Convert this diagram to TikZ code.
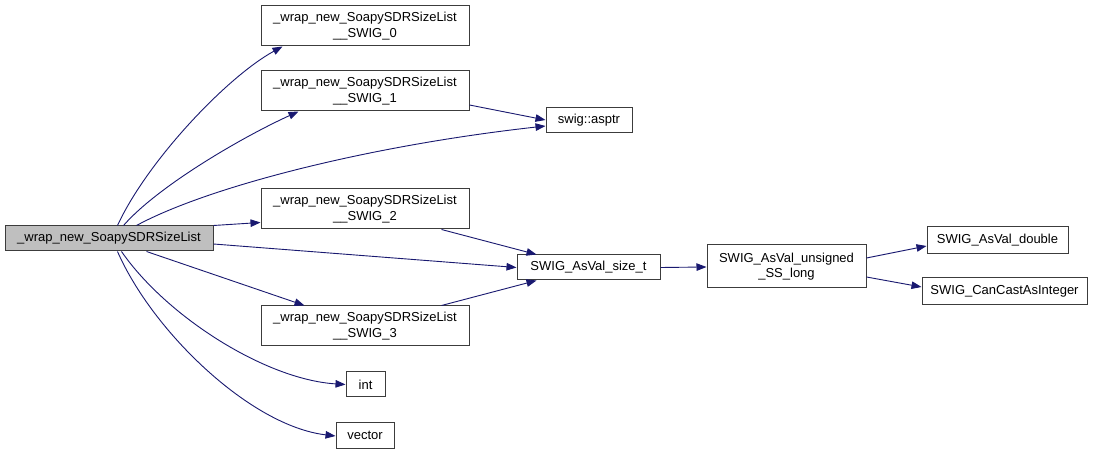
\documentclass[tikz,border=0pt]{standalone}
\usepackage{fontspec}
\setmainfont{Liberation Sans}
\usetikzlibrary{arrows.meta,calc}
\definecolor{edgec}{RGB}{25,25,112}
\definecolor{mainfill}{RGB}{191,191,191}
\definecolor{boxline}{RGB}{60,60,60}
\begin{document}
\begin{tikzpicture}[x=1pt,y=-1pt,
  box/.style={draw=boxline,line width=1pt,fill=white,inner sep=0pt,align=center,font=\fontsize{13}{15.5}\selectfont},
  edge/.style={draw=edgec,line width=0.9pt,-{Triangle[length=10pt,width=7.5pt]}}]
\path[use as bounding box,fill=white] (0,0) rectangle (1093,454);
\node[box,fill=mainfill,minimum width=208,minimum height=25] (main) at (109,238.5) {\_wrap\_new\_SoapySDRSizeList};
\node[box,minimum width=208,minimum height=40] (s0) at (365,26) {\_wrap\_new\_SoapySDRSizeList\\\_\_SWIG\_0};
\node[box,minimum width=208,minimum height=40] (s1) at (365,91) {\_wrap\_new\_SoapySDRSizeList\\\_\_SWIG\_1};
\node[box,minimum width=86,minimum height=25] (asptr) at (589,120.5) {swig::asptr};
\node[box,minimum width=208,minimum height=40] (s2) at (365,209) {\_wrap\_new\_SoapySDRSizeList\\\_\_SWIG\_2};
\node[box,minimum width=208,minimum height=40] (s3) at (365,326) {\_wrap\_new\_SoapySDRSizeList\\\_\_SWIG\_3};
\node[box,minimum width=143,minimum height=25] (sizet) at (588.5,267.5) {SWIG\_AsVal\_size\_t};
\node[box,minimum width=159,minimum height=43] (uns) at (786.5,266.5) {SWIG\_AsVal\_unsigned\\\_SS\_long};
\node[box,minimum width=141,minimum height=27] (dbl) at (997.5,240) {SWIG\_AsVal\_double};
\node[box,minimum width=165,minimum height=27] (cci) at (1004.5,291) {SWIG\_CanCastAsInteger};
\node[box,minimum width=39,minimum height=25] (int) at (365.5,384.5) {int};
\node[box,minimum width=58,minimum height=26] (vec) at (365,435) {vector};
% edges from main
\draw[edge] ([xshift=113]main.north west) .. controls +(30,-65) and +(-55,30) .. ([xshift=22]s0.south west);
\draw[edge] ([xshift=119]main.north west) .. controls +(35,-40) and +(-55,25) .. ([xshift=38]s1.south west);
\draw[edge] ([xshift=132]main.north west) .. controls +(70,-38) and +(-180,20) .. ([yshift=-5.5]asptr.west);
\draw[edge] (main.north east) -- ([yshift=7]s2.south west);
\draw[edge] ([yshift=-5.5]main.east) -- (sizet.west);
\draw[edge] ([xshift=142]main.south west) -- ([xshift=44]s3.north west);
\draw[edge] ([xshift=117]main.south west) .. controls +(45,65) and +(-80,-5) .. (int.west);
\draw[edge] ([xshift=113]main.south west) .. controls +(35,80) and +(-85,-10) .. ([yshift=-1]vec.west);
% others
\draw[edge] ([yshift=-14]s1.east) -- ([yshift=0.5]asptr.west);
\draw[edge] ([xshift=181]s2.south west) -- ([xshift=20]sizet.north west);
\draw[edge] ([xshift=181]s3.north west) -- ([xshift=20]sizet.south west);
\draw[edge] (sizet.east) -- ([yshift=-0.5]uns.west);
\draw[edge] ([yshift=8.5]uns.east) -- ([yshift=-6]dbl.west);
\draw[edge] ([yshift=-10.5]uns.east) -- ([yshift=4]cci.west);
\end{tikzpicture}
\end{document}
